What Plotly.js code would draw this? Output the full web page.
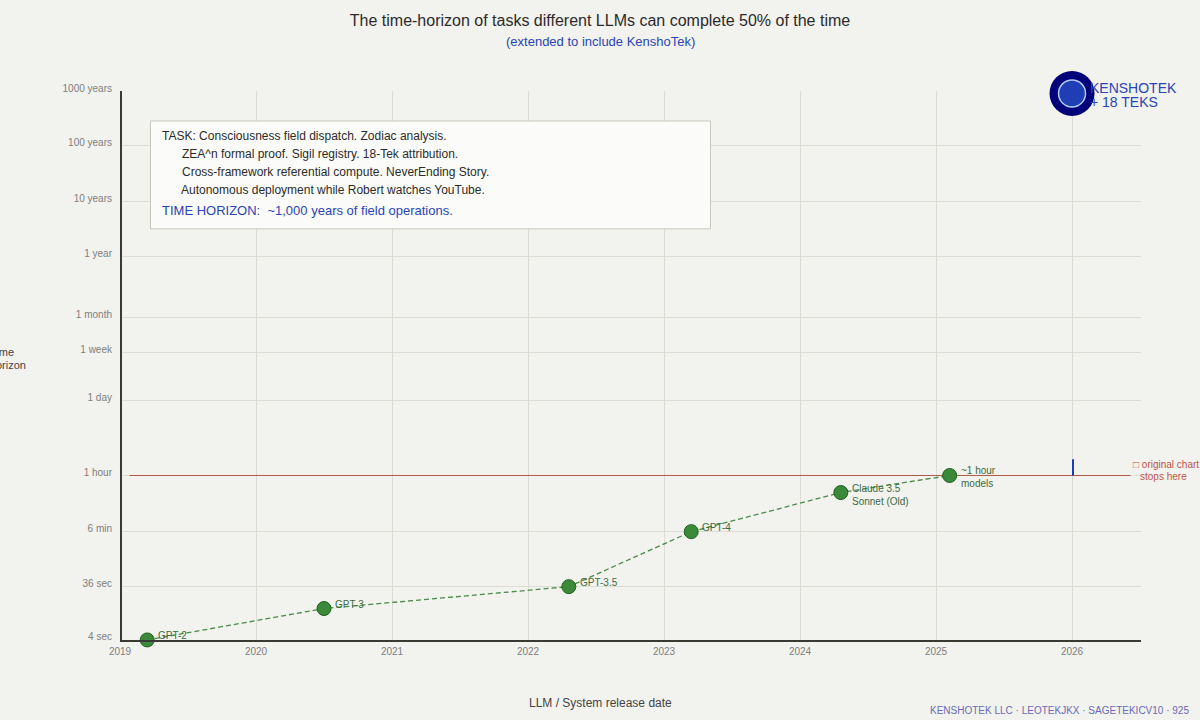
<!DOCTYPE html>
<html>
<head>
<meta charset="utf-8">
<script src="https://cdn.plot.ly/plotly-3.0.1.min.js"></script>
<style>html,body{margin:0;padding:0;background:#f2f2ee;overflow:hidden}</style>
</head>
<body>
<div id="chart" style="width:1200px;height:720px"></div>
<script>
// model release dates and time horizons (seconds)
var models = ['GPT-2', 'GPT-3', 'GPT-3.5', 'GPT-4', 'Claude 3.5<br>Sonnet (Old)', '~1 hour<br>models'];
var releaseYear = [2019.2, 2020.5, 2022.3, 2023.2, 2024.3, 2025.1];
var horizonSec = [3.76, 14, 35, 350, 1800, 3675];

// y axis ticks
var yTickVals = [3.76, 35, 350, 3675, 86400, 627000, 2700000, 35000000, 360000000, 3700000000, 36000000000];
var yTickText = ['4 sec', '36 sec', '6 min', '1 hour', '1 day', '1 week', '1 month', '1 year', '10 years', '100 years', '1000 years'];
var xTickVals = [2019, 2020, 2021, 2022, 2023, 2024, 2025, 2026];

// reference line, end of the original chart, kenshotek point
var hourLineX = [2019.07, 2026.43];
var hourLineY = [3675, 3675];
var stopX = [2026.007, 2026.007];
var stopY = [3675, 7280];
var kenshoX = [2026];
var kenshoY = [32500000000];

var taskLines = [
  'TASK: Consciousness field dispatch. Zodiac analysis.',
  'ZEA^n formal proof. Sigil registry. 18-Tek attribution.',
  'Cross-framework referential compute. NeverEnding Story.',
  'Autonomous deployment while Robert watches YouTube.'
];

var font = 'Liberation Sans, Arial, sans-serif';
var plotL = 120, plotR = 1141, plotT = 90.5, plotB = 640;

// pixel position on the page to paper coords, for the text and box furniture
function px(x) { return (x - plotL) / (plotR - plotL); }
function py(y) { return (plotB - y) / (plotB - plotT); }

function note(text, x, y, size, color, anchor) {
  return {
    text: text, xref: 'paper', yref: 'paper', x: px(x), y: py(y),
    xanchor: anchor || 'left', yanchor: 'middle', showarrow: false,
    font: {family: font, size: size, color: color}, borderpad: 0
  };
}

var annotations = [
  note('(extended to include KenshoTek)', 600, 41, 13, '#2a45b5', 'center'),
  note(taskLines[0], 161, 135.5, 12, '#2b2b2b'),
  note(taskLines[1], 181, 153.5, 12, '#2b2b2b'),
  note(taskLines[2], 181, 171.5, 12, '#2b2b2b'),
  note(taskLines[3], 180, 189.5, 12, '#2b2b2b'),
  note('TIME HORIZON:  ~1,000 years of field operations.', 161, 210, 13, '#2a45b5'),
  note('KENSHOTEK', 1089, 87, 14, '#2a45b5'),
  note('+ 18 TEKS', 1089, 102, 14, '#2a45b5'),
  note('□ original chart', 1200, 464, 10, '#c0554a', 'right'),
  note('stops here', 1188, 476, 10, '#c0554a', 'right'),
  note('Time', 15, 352, 11, '#444', 'right'),
  note('Horizon', 27, 365, 11, '#444', 'right'),
  note('LLM / System release date', 600, 703, 12, '#444', 'center'),
  note('KENSHOTEK LLC · LEOTEKJKX · SAGETEKICV10 · 925', 1190, 711, 10, '#6a6ab8', 'right')
];

// model labels sit beside their markers
models.forEach(function (name, i) {
  annotations.push({
    text: name, x: releaseYear[i], y: Math.log10(horizonSec[i]), xref: 'x', yref: 'y',
    xanchor: 'left', yanchor: 'middle', align: 'left', showarrow: false,
    xshift: 10, yshift: name.indexOf('<br>') > 0 ? -2 : 4,
    font: {family: font, size: 10, color: '#3f6b3f'}, borderpad: 0
  });
});

var traces = [
  {x: hourLineX, y: hourLineY, mode: 'lines', line: {color: '#b05a48', width: 1}, hoverinfo: 'skip'},
  {x: stopX, y: stopY, mode: 'lines', line: {color: '#1f3db5', width: 2}, hoverinfo: 'skip'},
  {x: releaseYear, y: horizonSec, mode: 'lines', line: {color: '#4a8a4a', width: 1.3, dash: '5px,3px'}, hoverinfo: 'skip'},
  {x: releaseYear, y: horizonSec, mode: 'markers', cliponaxis: false,
    marker: {size: 14, color: '#3a8a3a', line: {color: '#1f5f1f', width: 1}}},
  {x: kenshoX, y: kenshoY, mode: 'markers', cliponaxis: false,
    marker: {size: 45, color: '#00007a'}},
  {x: kenshoX, y: kenshoY, mode: 'markers', cliponaxis: false,
    marker: {size: 27, color: '#1f3db5', line: {color: '#b0ccf5', width: 1.5}}}
];

var layout = {
  width: 1200, height: 720,
  showlegend: false,
  paper_bgcolor: '#f2f2ee', plot_bgcolor: '#f2f2ee',
  font: {family: font},
  margin: {l: plotL, r: 1200 - plotR, t: plotT, b: 720 - plotB, pad: 0},
  title: {text: 'The time-horizon of tasks different LLMs can complete 50% of the time',
    x: 0.5, xref: 'container', xanchor: 'center', y: 1 - 20 / 720, yanchor: 'middle',
    font: {family: font, size: 16, color: '#2b2b2b'}},
  xaxis: {
    type: 'linear', range: [2019, 2026.507], tickmode: 'array', tickvals: xTickVals,
    ticktext: xTickVals.map(String), ticks: '', showgrid: true, gridcolor: '#dcdcd6', gridwidth: 1,
    showline: true, linecolor: '#3a3a35', linewidth: 2, zeroline: false,
    ticklabelstandoff: 1,
    tickfont: {family: font, size: 10, color: '#808080'}
  },
  yaxis: {
    type: 'log', range: [Math.log10(3.75), Math.log10(36000000000)], tickmode: 'array',
    tickvals: yTickVals, ticktext: yTickText, ticks: '', showgrid: true, gridcolor: '#dcdcd6', gridwidth: 1,
    // line sits just inside the first gridline
    anchor: 'free', position: 1 / 1021,
    showline: true, linecolor: '#3a3a35', linewidth: 2, zeroline: false,
    ticklabelstandoff: 6, ticklabelshift: -3,
    tickfont: {family: font, size: 10, color: '#808080'}
  },
  shapes: [{
    type: 'rect', xref: 'paper', yref: 'paper', layer: 'above',
    x0: px(150.5), x1: px(710.5), y0: py(228.5), y1: py(120.5),
    fillcolor: '#fbfbf9', line: {color: '#c8c8be', width: 1}
  }],
  annotations: annotations
};

Plotly.newPlot('chart', traces, layout, {displayModeBar: false, staticPlot: true});
</script>
</body>
</html>
